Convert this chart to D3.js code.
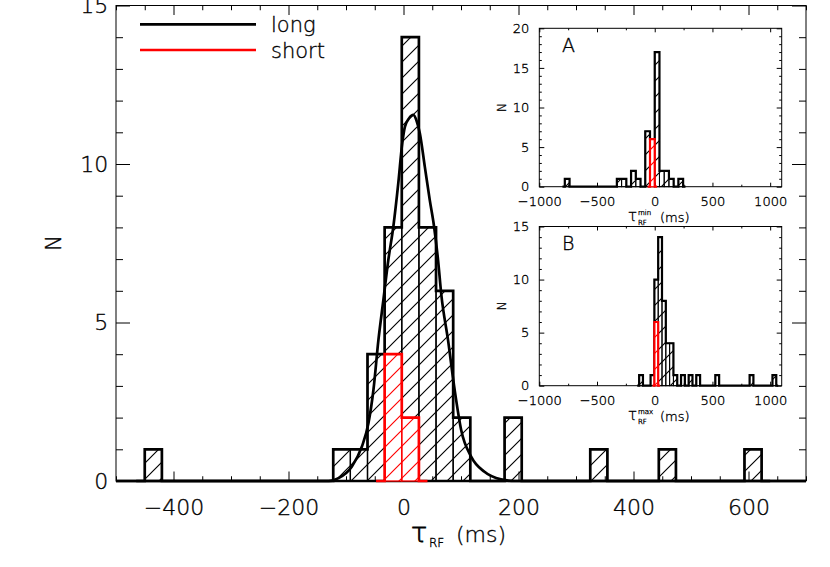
<!DOCTYPE html>
<html><head><meta charset="utf-8">
<script src="https://cdn.jsdelivr.net/npm/d3@7"></script>
<style>
body{margin:0;background:#fff}
svg{display:block}
text{font-family:"DejaVu Sans","Liberation Sans",sans-serif;font-weight:200;fill:#000;stroke:#000;stroke-width:0.35px}
</style>
</head><body>
<svg id="c" width="830" height="567"></svg>
<script>
// ---------------- data ----------------
// main histogram: bins start at -450 ms, width 29.8 ms
const mainBinStart = -450, mainBinWidth = 29.8;
const longCounts  = [1,0,0,0,0,0,0,0,0,0,0,1,1,4,8,14,8,6,2,0,0,2,0,0,0,0,1,0,0,0,1,0,0,0,0,1];
const shortCounts = [0,0,0,0,0,0,0,0,0,0,0,0,0,0,4,2,0,0,0,0,0,0,0,0,0,0,0,0,0,0,0,0,0,0,0,0];
// fitted curve of the long sample
const fitX = [-500,-130,-113,-90,-72.5,-61,-52.3,-43.6,-35,-26.4,-17.7,-9.1,-2.2,2.5,10,17,23,28.4,37.1,45.7,53.2,60.1,65.8,77.4,89,100.3,117.6,140.8,169.5,193,700];
const fitY = [0,0,0.09,0.45,1.08,1.82,2.87,4.45,5.71,6.97,8.02,9.39,10.65,11.18,11.45,11.55,11.35,10.97,9.91,8.86,8.02,6.97,5.87,4.45,2.87,1.61,0.77,0.29,0.05,0,0];
// inset A (tau_RF^min): bins start -820 ms, width 41 ms
const insetABinStart = -820, insetABinWidth = 41;
const insetALong  = [0,1,0,0,0,0,0,0,0,0,0,0,1,1,0,2,1,0,7,6,17,2,2,1,0,1,0];
const insetAShort = [0,0,0,0,0,0,0,0,0,0,0,0,0,0,0,0,0,0,0,6,0,0,0,0,0,0,0];
// inset B (tau_RF^max): bins start -168 ms, width 33 ms
const insetBBinStart = -168, insetBBinWidth = 33;
const insetBLong  = [0,1,0,0,1,10,14,8,4,4,1,0,1,0,1,0,1,0,0,0,0,1,0,0,0,0,0,0,0,0,1,0,0,0,0,0,1,0];
const insetBShort = [0,0,0,0,0,6,0,0,0,0,0,0,0,0,0,0,0,0,0,0,0,0,0,0,0,0,0,0,0,0,0,0,0,0,0,0,0,0];
// tick labels
const mainXTicks = [-400,-200,0,200,400,600];
const mainYTicks = [0,5,10,15];
const insetXTicks = [-1000,-500,0,500,1000];
const insetAYTicks = [0,5,10,15,20];
const insetBYTicks = [0,5,10,15];
const legendLabels = ["long","short"];
const legendColors = ["#000","#ff0000"];

// ---------------- drawing ----------------
const svg = d3.select("#c");
const defs = svg.append("defs");
const fmt = d3.format("d");
function hatch(id, color){
  const p = defs.append("pattern").attr("id",id).attr("patternUnits","userSpaceOnUse")
    .attr("width",16).attr("height",16);
  p.append("path").attr("d","M0,16L16,0M-4,4L4,-4M12,20L20,12")
    .attr("stroke",color).attr("stroke-width",1.15).attr("fill","none");
}
hatch("hk","#000"); hatch("hr","#ff0000");

function drawHist(g, xs, ys, start, width, counts, color, pat, stepW, sepW, white){
  const bins = counts.map((n,i)=>({x0:start+i*width, x1:start+(i+1)*width, n})).filter(b=>b.n>0);
  if(white){
    g.selectAll(null).data(bins).join("rect")
      .attr("x",b=>xs(b.x0)).attr("y",b=>ys(b.n))
      .attr("width",b=>xs(b.x1)-xs(b.x0)).attr("height",b=>ys(0)-ys(b.n))
      .attr("fill","#fff");
  }
  g.selectAll(null).data(bins).join("rect")
    .attr("x",b=>xs(b.x0)).attr("y",b=>ys(b.n))
    .attr("width",b=>xs(b.x1)-xs(b.x0)).attr("height",b=>ys(0)-ys(b.n))
    .attr("fill",`url(#${pat})`).attr("stroke",color).attr("stroke-width",sepW);
  const cnt = i => (i>=0 && i<counts.length) ? counts[i] : 0;
  let first = counts.findIndex(n=>n>0), last = counts.length-1;
  while(last>0 && counts[last]===0) last--;
  const lo = first-1, hi = last+1;
  const cx = i => start+(i+0.5)*width;
  let d = `M${xs(cx(lo))},${ys(cnt(lo))}`;
  for(let i=lo;i<hi;i++){ d += `H${xs(start+(i+1)*width)}V${ys(cnt(i+1))}`; }
  d += `H${xs(cx(hi))}`;
  g.append("path").attr("d",d).attr("fill","none").attr("stroke",color)
    .attr("stroke-width",stepW).attr("stroke-linejoin","miter");
}

function frameTicks(g, xs, ys, xMaj, xMin, yMaj, yMin, lx, ly, fs, padX, padY){
  const [xa,xb] = xs.range(), [ya,yb] = ys.range(); // ya bottom, yb top
  const clean = s => { s.select(".domain").remove(); s.selectAll("line").attr("stroke","#000").attr("stroke-width",1); };
  g.append("g").attr("transform",`translate(0,${ya})`)
    .call(d3.axisBottom(xs).tickValues(xMaj).tickFormat(fmt).tickSize(-lx).tickPadding(padX)).call(clean)
    .selectAll("text").attr("font-size",fs).attr("font-family",null);
  g.append("g").attr("transform",`translate(0,${ya})`)
    .call(d3.axisBottom(xs).tickValues(xMin).tickSize(-lx/2).tickFormat("")).call(clean);
  g.append("g").attr("transform",`translate(0,${yb})`)
    .call(d3.axisTop(xs).tickValues(xMaj).tickSize(-lx).tickFormat("")).call(clean);
  g.append("g").attr("transform",`translate(0,${yb})`)
    .call(d3.axisTop(xs).tickValues(xMin).tickSize(-lx/2).tickFormat("")).call(clean);
  g.append("g").attr("transform",`translate(${xa},0)`)
    .call(d3.axisLeft(ys).tickValues(yMaj).tickFormat(fmt).tickSize(-ly).tickPadding(padY)).call(clean)
    .selectAll("text").attr("font-size",fs).attr("font-family",null);
  g.append("g").attr("transform",`translate(${xa},0)`)
    .call(d3.axisLeft(ys).tickValues(yMin).tickSize(-ly/2).tickFormat("")).call(clean);
  g.append("g").attr("transform",`translate(${xb},0)`)
    .call(d3.axisRight(ys).tickValues(yMaj).tickSize(-ly).tickFormat("")).call(clean);
  g.append("g").attr("transform",`translate(${xb},0)`)
    .call(d3.axisRight(ys).tickValues(yMin).tickSize(-ly/2).tickFormat("")).call(clean);
  g.append("rect").attr("x",xa).attr("y",yb).attr("width",xb-xa).attr("height",ya-yb)
    .attr("fill","none").attr("stroke","#000").attr("stroke-width",1);
}

// ---- main panel ----
const x = d3.scaleLinear().domain([-500,700]).range([116,806]);
const y = d3.scaleLinear().domain([0,15]).range([481,5.5]);
const gm = svg.append("g");
const minX = d3.range(-500,701,50).filter(v=>!mainXTicks.includes(v));
const minY = d3.range(0,16,1).filter(v=>!mainYTicks.includes(v));
frameTicks(gm, x, y, mainXTicks, minX, mainYTicks, minY, 9.5, 14, 22, 18.4, 7.7);
drawHist(gm, x, y, mainBinStart, mainBinWidth, longCounts, "#000", "hk", 2.7, 1.3, false);
gm.append("line").attr("x1",x(-500)).attr("x2",x(700)).attr("y1",y(0)).attr("y2",y(0))
  .attr("stroke","#000").attr("stroke-width",2.7);
drawHist(gm, x, y, mainBinStart, mainBinWidth, shortCounts, "#ff0000", "hr", 2.7, 1.3, true);
gm.append("path").datum(fitX.map((v,i)=>[v,fitY[i]]))
  .attr("d", d3.line().x(d=>x(d[0])).y(d=>y(d[1])).curve(d3.curveMonotoneX))
  .attr("fill","none").attr("stroke","#000").attr("stroke-width",2.7);

// axis titles
gm.append("text").attr("transform","translate(61,243) rotate(-90)").attr("text-anchor","middle")
  .attr("font-size",21).text("N");
const xt = gm.append("text").attr("y",542).attr("font-size",22);
xt.append("tspan").attr("x",411).attr("font-size",27).attr("stroke-width",0.8).text("τ");
xt.append("tspan").attr("x",429).attr("dy",5).attr("font-size",12).text("RF");
xt.append("tspan").attr("x",456).attr("dy",-5).text("(ms)");

// legend
legendLabels.forEach((lab,i)=>{
  const yy = 24.3 + i*25.7;
  gm.append("line").attr("x1",140).attr("x2",256).attr("y1",yy).attr("y2",yy)
    .attr("stroke",legendColors[i]).attr("stroke-width",2.7);
  gm.append("text").attr("x",271).attr("y",yy+7.5).attr("font-size",21).text(lab);
});

// ---- insets ----
function inset(top, bottom, yMax, yTicks, longC, shortC, start, width, letter, sup){
  const xs = d3.scaleLinear().domain([-1000,1100]).range([539.3,781.7]);
  const ys = d3.scaleLinear().domain([0,yMax]).range([bottom,top]);
  const g = svg.append("g");
  const xMin = d3.range(-1000,1101,250).filter(v=>!insetXTicks.includes(v));
  const yMin = d3.range(0,yMax+1,1).filter(v=>!yTicks.includes(v));
  frameTicks(g, xs, ys, insetXTicks, xMin, yTicks, yMin, 4, 5, 13, 10, 10);
  drawHist(g, xs, ys, start, width, longC, "#000", "hk", 2.2, 1, false);
  drawHist(g, xs, ys, start, width, shortC, "#ff0000", "hr", 2.2, 1, true);
  g.append("text").attr("x",562).attr("y",top+23.5).attr("font-size",19).text(letter);
  g.append("text").attr("transform",`translate(506,${(top+bottom)/2}) rotate(-90)`)
    .attr("text-anchor","middle").attr("font-size",12).text("N");
  const by = bottom + 34.5;
  g.append("text").attr("x",628).attr("y",by).attr("font-size",15).attr("stroke-width",0.6).text("τ");
  g.append("text").attr("x",638).attr("y",by-6.5).attr("font-size",7).text(sup);
  g.append("text").attr("x",638).attr("y",by+3.5).attr("font-size",7).text("RF");
  g.append("text").attr("x",660).attr("y",by+1).attr("font-size",13).text("(ms)");
}
inset(28.3, 186.7, 20, insetAYTicks, insetALong, insetAShort, insetABinStart, insetABinWidth, "A", "min");
inset(226.5, 385.7, 15, insetBYTicks, insetBLong, insetBShort, insetBBinStart, insetBBinWidth, "B", "max");
</script>
</body></html>
